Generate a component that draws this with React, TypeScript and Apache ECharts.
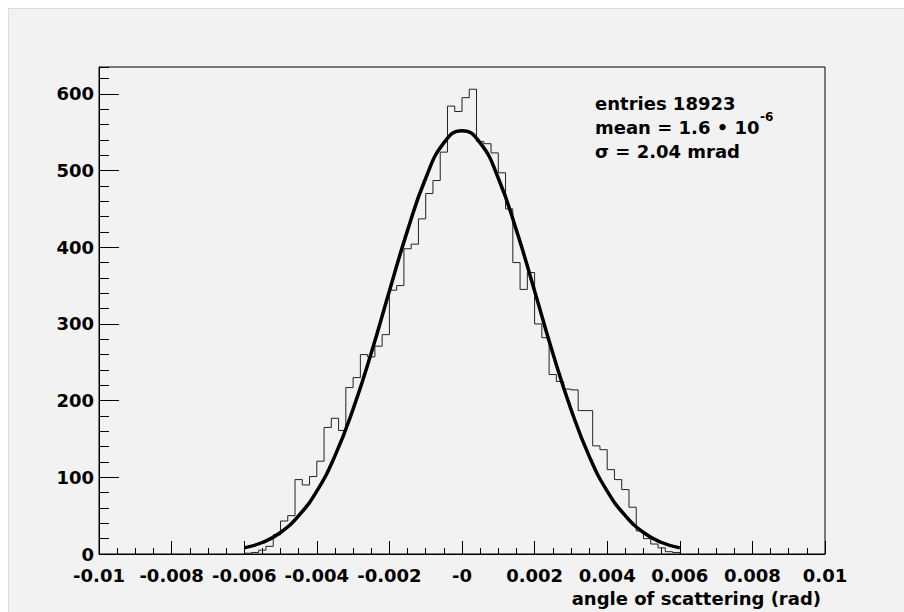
import React, { useEffect, useRef } from "react";
import * as echarts from "echarts";

// Histogram: bins of width 0.0002 rad starting at -0.006 rad
const binStart = -0.006;
const binWidth = 0.0002;
const binCounts = [
  1, 2, 5, 10, 25, 43, 50, 97, 90, 101,
  121, 165, 177, 161, 217, 230, 260, 257, 271, 286,
  344, 350, 398, 404, 437, 470, 487, 524, 584, 577,
  595, 606, 538, 535, 523, 497, 450, 380, 345, 367,
  300, 282, 234, 225, 215, 214, 187, 187, 141, 136,
  110, 97, 84, 61, 30, 20, 13, 8, 3, 2,
];

// Gaussian fit curve
const fitX = [
  -0.006, -0.0055, -0.005, -0.0045, -0.004, -0.0035, -0.003, -0.0025, -0.002,
  -0.0015, -0.001, -0.0005, 0, 0.0005, 0.001, 0.0015, 0.002, 0.0025, 0.003,
  0.0035, 0.004, 0.0045, 0.005, 0.0055, 0.006,
];
const fitY = [
  8, 15, 28, 50, 82, 128, 189, 262, 343, 422, 490, 536, 552, 536, 490, 422, 343,
  262, 189, 128, 82, 50, 28, 15, 8,
];

const statsLines = ["entries 18923", "mean = 1.6 \u2022 10", "\u03c3 = 2.04 mrad"];
const meanExponent = "-6";
const xTitle = "angle of scattering (rad)";

const FONT = "DejaVu Sans";

export default function App() {
  const ref = useRef<HTMLDivElement>(null);

  useEffect(() => {
    if (!ref.current) return;
    const chart = echarts.init(ref.current, undefined, { renderer: "svg" });

    const histData: number[][] = [[binStart, 0]];
    binCounts.forEach((c, i) => histData.push([binStart + i * binWidth, c]));
    histData.push([binStart + binCounts.length * binWidth, 0]);

    const fitData = fitX.map((x, i) => [x, fitY[i]]);

    const labelStyle = {
      fontFamily: FONT,
      fontWeight: "bold" as const,
      fontSize: 18,
      color: "#000",
    };

    chart.setOption({
      animation: false,
      backgroundColor: "transparent",
      grid: {
        left: 91,
        right: 79,
        top: 59,
        bottom: 58,
        show: true,
        borderColor: "#000",
        borderWidth: 1,
        backgroundColor: "transparent",
      },
      xAxis: {
        type: "value",
        min: -0.01,
        max: 0.01,
        interval: 0.002,
        axisLine: { onZero: false, lineStyle: { color: "#000", width: 1 } },
        axisTick: { inside: true, length: 13, lineStyle: { color: "#000" } },
        minorTick: { show: true, splitNumber: 4, length: 6, lineStyle: { color: "#000" } },
        splitLine: { show: false },
        axisLabel: {
          ...labelStyle,
          margin: 12,
          formatter: (v: number) => {
            const r = Math.round(v * 1000) / 1000;
            if (Math.abs(r) < 1e-9) return "-0";
            return String(r);
          },
        },
      },
      yAxis: [
        {
          type: "value",
          position: "left",
          min: 0,
          max: 635,
          interval: 100,
          axisLine: { show: true, onZero: false, lineStyle: { color: "#000", width: 1 } },
          axisTick: { show: true, inside: true, length: 20, lineStyle: { color: "#000" } },
          splitLine: { show: false },
          axisLabel: {
            ...labelStyle,
            margin: 5,
            showMaxLabel: false,
            formatter: (v: number) => (v % 100 === 0 ? String(v) : ""),
          },
        },
        {
          type: "value",
          position: "left",
          offset: 0,
          min: 0,
          max: 635,
          interval: 20,
          axisLine: { show: false, onZero: false },
          axisTick: { show: true, inside: true, length: 10, lineStyle: { color: "#000" } },
          splitLine: { show: false },
          axisLabel: { show: false },
        },
      ],
      series: [
        {
          type: "line",
          step: "end",
          data: histData,
          symbol: "none",
          lineStyle: { color: "#222", width: 1 },
          yAxisIndex: 0,
          z: 2,
        },
        {
          type: "line",
          data: fitData,
          smooth: true,
          symbol: "none",
          lineStyle: { color: "#000", width: 3.5 },
          yAxisIndex: 0,
          z: 3,
        },
      ],
      graphic: [
        {
          type: "text",
          left: 587,
          top: 86,
          style: { text: statsLines[0], ...textStyle() },
        },
        {
          type: "text",
          left: 587,
          top: 110,
          style: { text: statsLines[1], ...textStyle() },
        },
        {
          type: "text",
          left: 752,
          top: 103,
          style: { text: meanExponent, fontFamily: FONT, fontWeight: "bold", fontSize: 12, fill: "#000" },
        },
        {
          type: "text",
          left: 587,
          top: 134,
          style: { text: statsLines[2], ...textStyle() },
        },
        {
          type: "text",
          right: 83,
          top: 581,
          style: { text: xTitle, ...textStyle() },
        },
      ],
    });

    return () => chart.dispose();
  }, []);

  return (
    <div
      ref={ref}
      style={{
        position: "fixed",
        left: 8,
        top: 8,
        width: 896,
        height: 604,
        background: "#f2f2f2",
        boxShadow: "inset 1px 1px 0 #dcdcdc",
      }}
    />
  );
}

function textStyle() {
  return { fontFamily: FONT, fontWeight: "bold", fontSize: 18, fill: "#000" };
}
